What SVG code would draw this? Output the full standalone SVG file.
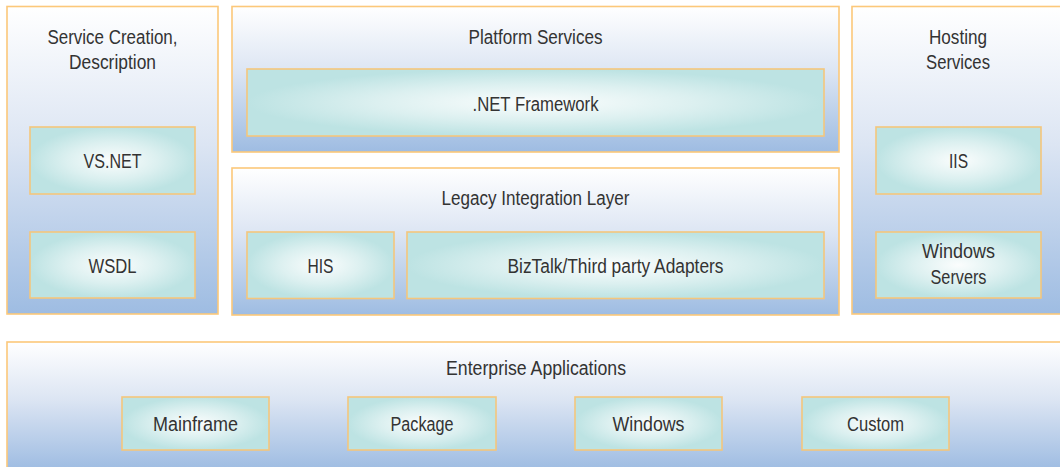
<svg xmlns="http://www.w3.org/2000/svg" width="1060" height="467" viewBox="0 0 1060 467">
  <defs>
    <linearGradient id="outerGrad" x1="0" y1="0" x2="0" y2="1">
      <stop offset="0" stop-color="#ffffff"/>
      <stop offset="0.45" stop-color="#dce5f3"/>
      <stop offset="1" stop-color="#9ebce2"/>
    </linearGradient>
    <radialGradient id="innerGrad" cx="0.5" cy="0.5" r="0.5" fx="0.5" fy="0.5">
      <stop offset="0" stop-color="#fbfdfd"/>
      <stop offset="0.55" stop-color="#dcf0f0"/>
      <stop offset="1" stop-color="#bde3e3"/>
    </radialGradient>
    <style>
      .outer { fill: url(#outerGrad); stroke: #fcc87a; stroke-width: 1.6; }
      .inner { fill: url(#innerGrad); stroke: #f4c67c; stroke-width: 1.6; }
      text { font-family: "Liberation Sans", Arial, sans-serif; font-size: 20px; fill: #333333; text-anchor: middle; }
    </style>
  </defs>
  <rect x="0" y="0" width="1060" height="467" fill="#ffffff"/>

  <g id="connectors"/>

  <g id="service-creation">
    <rect class="outer" x="7" y="6.5" width="211" height="307.5"/>
    <text x="112.5" y="44" textLength="130" lengthAdjust="spacingAndGlyphs">Service Creation,</text>
    <text x="112.5" y="69" textLength="87" lengthAdjust="spacingAndGlyphs">Description</text>
  </g>
  <g id="vsnet">
    <rect class="inner" x="30" y="127" width="165" height="67"/>
    <text x="112.5" y="168" textLength="58" lengthAdjust="spacingAndGlyphs">VS.NET</text>
  </g>
  <g id="wsdl">
    <rect class="inner" x="30" y="232" width="165" height="66"/>
    <text x="112.5" y="273" textLength="48" lengthAdjust="spacingAndGlyphs">WSDL</text>
  </g>

  <g id="platform-services">
    <rect class="outer" x="232" y="6.5" width="607" height="145.5"/>
    <text x="535.5" y="44" textLength="134" lengthAdjust="spacingAndGlyphs">Platform Services</text>
  </g>
  <g id="net-framework">
    <rect class="inner" x="247" y="69" width="577" height="67"/>
    <text x="535.5" y="110.5" textLength="126" lengthAdjust="spacingAndGlyphs">.NET Framework</text>
  </g>

  <g id="legacy-integration">
    <rect class="outer" x="232" y="168" width="607" height="147"/>
    <text x="535.5" y="205" textLength="188" lengthAdjust="spacingAndGlyphs">Legacy Integration Layer</text>
  </g>
  <g id="his">
    <rect class="inner" x="247" y="232" width="147" height="66.5"/>
    <text x="320.5" y="273" textLength="26" lengthAdjust="spacingAndGlyphs">HIS</text>
  </g>
  <g id="biztalk">
    <rect class="inner" x="407" y="232" width="417" height="66.5"/>
    <text x="615.5" y="273" textLength="216" lengthAdjust="spacingAndGlyphs">BizTalk/Third party Adapters</text>
  </g>

  <g id="hosting-services">
    <rect class="outer" x="852" y="6.5" width="215" height="307.5"/>
    <text x="958" y="44" textLength="58" lengthAdjust="spacingAndGlyphs">Hosting</text>
    <text x="958" y="69" textLength="64" lengthAdjust="spacingAndGlyphs">Services</text>
  </g>
  <g id="iis">
    <rect class="inner" x="876" y="127" width="165" height="67"/>
    <text x="958.5" y="168" textLength="19" lengthAdjust="spacingAndGlyphs">IIS</text>
  </g>
  <g id="windows-servers">
    <rect class="inner" x="876" y="232" width="165" height="66"/>
    <text x="958.5" y="258" textLength="73" lengthAdjust="spacingAndGlyphs">Windows</text>
    <text x="958.5" y="283.5" textLength="56" lengthAdjust="spacingAndGlyphs">Servers</text>
  </g>

  <g id="enterprise-applications">
    <rect class="outer" x="7" y="342" width="1060" height="128"/>
    <text x="536" y="375" textLength="180" lengthAdjust="spacingAndGlyphs">Enterprise Applications</text>
  </g>
  <g id="mainframe">
    <rect class="inner" x="122" y="397" width="147" height="53"/>
    <text x="195.5" y="431" textLength="85" lengthAdjust="spacingAndGlyphs">Mainframe</text>
  </g>
  <g id="package">
    <rect class="inner" x="348" y="397" width="148" height="53"/>
    <text x="422" y="431" textLength="63" lengthAdjust="spacingAndGlyphs">Package</text>
  </g>
  <g id="windows">
    <rect class="inner" x="575" y="397" width="147" height="53"/>
    <text x="648.5" y="431" textLength="72" lengthAdjust="spacingAndGlyphs">Windows</text>
  </g>
  <g id="custom">
    <rect class="inner" x="802" y="397" width="147" height="53"/>
    <text x="875.5" y="431" textLength="57" lengthAdjust="spacingAndGlyphs">Custom</text>
  </g>
</svg>
